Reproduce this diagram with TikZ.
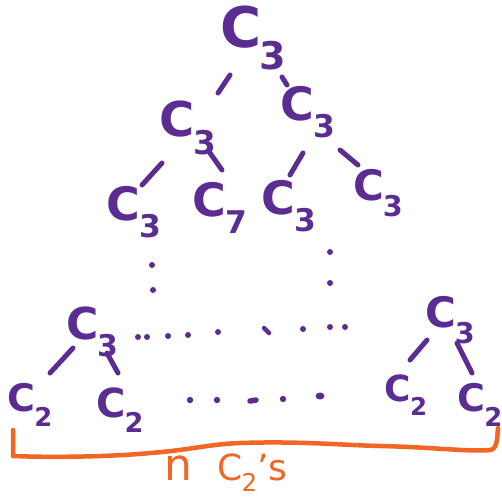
\documentclass[tikz,border=0pt]{standalone}
\usepackage{fontspec}
\setmainfont{DejaVu Sans}
\usetikzlibrary{calc}
\definecolor{tpurple}{HTML}{5B2C91}
\definecolor{torange}{HTML}{F26522}
\newcommand{\Cs}[1]{C\kern-0.03em\raisebox{-0.38em}{\scalebox{0.68}{#1}}}
\tikzset{
  lab/.style={text=tpurple, inner sep=0pt, font=\fontsize{#1}{#1}\selectfont\bfseries},
  edge/.style={draw=tpurple, line width=5pt, line cap=round},
  dot/.style={fill=tpurple},
}
\begin{document}
\begin{tikzpicture}[x=1pt,y=-1pt]
\useasboundingbox (0,0) rectangle (502,498);
% nodes
\node[lab=56] (t) at (253,38) {\Cs{3}};
\node[lab=48] (l2) at (188,128) {\Cs{3}};
\node[lab=46] (r2) at (308,112) {\Cs{3}};
\node[lab=46] (l3a) at (134,212) {\Cs{3}};
\node[lab=46] (l3b) at (220,208) {\Cs{7}};
\node[lab=46] (l3c) at (289,206) {\Cs{3}};
\node[lab=42] (l3d) at (378,193) {\Cs{3}};
\node[lab=44] (b1) at (92,332) {\Cs{3}};
\node[lab=42] (b2) at (450,320) {\Cs{3}};
\node[lab=38] (c2a) at (30,405) {\Cs{2}};
\node[lab=40] (c2b) at (120,410) {\Cs{2}};
\node[lab=36] (c2c) at (406,395) {\Cs{2}};
\node[lab=38] (c2d) at (480,405) {\Cs{2}};
% edges
\draw[edge] ($(t)+(-23,37)$) -- ($(l2)+(30,-35)$);
\draw[edge] ($(t)+(29,39)$) -- ($(r2)+(-21,-27)$);
\draw[edge] ($(l2)+(-26,35)$) -- ($(l3a)+(8,-27)$);
\draw[edge] ($(l2)+(22,25)$) -- ($(l3b)+(2,-38)$);
\draw[edge] ($(r2)+(-5,41)$) -- ($(l3c)+(1,-31)$);
\draw[edge] ($(r2)+(32,38)$) -- ($(l3d)+(-20,-28)$);
\draw[edge] ($(b1)+(-19,16)$) -- ($(c2a)+(20,-32)$);
\draw[edge] ($(b1)+(15,21)$) -- ($(c2b)+(-2,-37)$);
\draw[edge] ($(b2)+(-23,20)$) -- ($(c2c)+(4,-35)$);
\draw[edge] ($(b2)+(7,23)$) -- ($(c2d)+(-8,-32)$);
% vertical dots
\foreach \p in {(152,265),(153,290),(330,252),(330,283)}
  \fill[dot] \p circle (3);
% horizontal dots, upper row
\foreach \p in {(138,337),(147,337),(168,336),(188,335),(218,332),(303,329),(330,327),(345,327)}
  \fill[dot] \p circle (3);
\draw[edge,line width=4.5pt] (264,328) -- (269,333);
% horizontal dots, lower row
\foreach \p in {(190,400),(217,400),(283,399)}
  \fill[dot] \p circle (3.2);
\draw[edge,line width=5.5pt] (250,401) -- (256,400);
\fill[dot] (320,396) ellipse (4.5 and 3.5);
% bracket
\draw[torange, line width=4.5pt, line join=round, line cap=round]
  (13,430) -- (13,456) .. controls (60,458) and (120,456) .. (150,453)
  .. controls (190,450) and (210,444) .. (240,443)
  .. controls (300,441) and (340,445) .. (380,446)
  .. controls (430,447) and (470,452) .. (490,450)
  .. controls (497,449) and (497,440) .. (498,428);
\node[text=torange, inner sep=0pt, font=\fontsize{36}{36}\selectfont] (lbl) at (226,473) {{\fontsize{44}{44}\selectfont n}\hspace{0.7em}C\kern-0.03em\raisebox{-0.3em}{\scalebox{0.68}{2}}'s};
\end{tikzpicture}
\end{document}
